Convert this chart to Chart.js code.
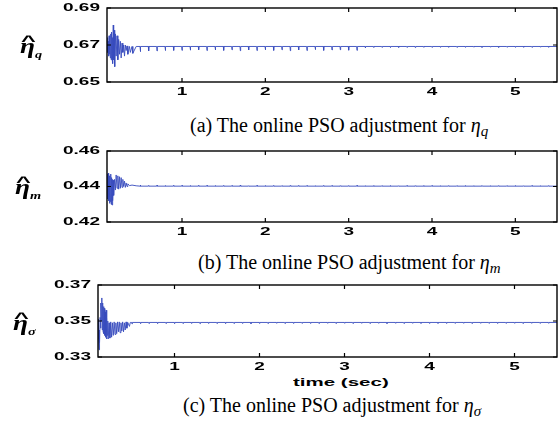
<!DOCTYPE html>
<html lang="en">
<head>
    <meta charset="UTF-8">
    <title>Online PSO adjustment</title>
    <style>
        * { box-sizing: border-box; margin: 0; padding: 0; }
        html, body { width: 560px; height: 427px; background: #fff; overflow: hidden; }
        #wrap { position: relative; width: 560px; height: 427px; }
        canvas { position: absolute; left: 0; }
        .lbl {
            position: absolute;
            font-family: 'Liberation Serif', serif;
            font-style: italic;
            font-weight: bold;
            font-size: 21px;
            transform: scaleX(1.3);
            transform-origin: left center;
            line-height: 1;
            white-space: nowrap;
        }
        .lbl .e { position: relative; display: inline-block; }
        .lbl .h {
            position: absolute;
            left: 2px;
            top: -3px;
            font-style: normal;
            font-weight: bold;
            font-family: 'Liberation Sans', sans-serif;
            font-size: 15px;
            transform: scaleX(1.3);
        }
        .lbl sub { font-size: 11px; }
        .cap {
            position: absolute;
            font-family: 'Liberation Serif', serif;
            font-size: 20px;
            white-space: nowrap;
            line-height: 1;
        }
        .cap i sub { font-size: 15px; vertical-align: -4px; }
        #xt {
            position: absolute;
            left: 293px;
            top: 377px;
            font: bold 10px 'Liberation Sans', sans-serif;
            transform: scaleX(2.05);
            transform-origin: left center;
            white-space: nowrap;
        }
    </style>
</head>
<body>
<div id="wrap">
    <canvas id="cA" width="560" height="100" style="top:0px"></canvas>
    <canvas id="cB" width="560" height="100" style="top:140px"></canvas>
    <canvas id="cC" width="560" height="100" style="top:277px"></canvas>

    <div class="lbl" style="left:20px; top:36px"><span class="e">&#951;<span class="h">^</span></span><sub>q</sub></div>
    <div class="lbl" style="left:15px; top:177px"><span class="e">&#951;<span class="h">^</span></span><sub>m</sub></div>
    <div class="lbl" style="left:13px; top:313px"><span class="e">&#951;<span class="h">^</span></span><sub>&#963;</sub></div>

    <div class="cap" style="left:190px; top:115px">(a) The online PSO adjustment for <i>&#951;<sub>q</sub></i></div>
    <div class="cap" style="left:198px; top:252px">(b) The online PSO adjustment for <i>&#951;<sub>m</sub></i></div>
    <div class="cap" style="left:183px; top:395px">(c) The online PSO adjustment for <i>&#951;<sub>&#963;</sub></i></div>
    <div id="xt">time (sec)</div>
</div>

<script src="https://cdn.jsdelivr.net/npm/chart.js@4.4.1/dist/chart.umd.min.js"></script>
<script>
    // axis ticks
    const xTicks = [1, 2, 3, 4, 5];
    const yTicksA = [0.65, 0.67, 0.69];
    const yTicksB = [0.42, 0.44, 0.46];
    const yTicksC = [0.33, 0.35, 0.37];

    // start-up transient (time, value)
    const tA = [0.100, 0.105, 0.110, 0.115, 0.120, 0.125, 0.130, 0.135, 0.140, 0.145, 0.150, 0.155, 0.160, 0.165, 0.170, 0.175, 0.180, 0.185, 0.190, 0.195, 0.200, 0.210, 0.220, 0.230, 0.240, 0.250, 0.260, 0.270, 0.280, 0.290, 0.300, 0.310, 0.320, 0.330, 0.340, 0.350, 0.370, 0.380, 0.400, 0.410, 0.450];
    const vA = [0.6700, 0.6740, 0.6660, 0.6720, 0.6640, 0.6750, 0.6650, 0.6730, 0.6630, 0.6760, 0.6620, 0.6770, 0.6640, 0.6740, 0.6600, 0.6808, 0.6620, 0.6780, 0.6600, 0.6583, 0.6760, 0.6640, 0.6750, 0.6620, 0.6730, 0.6650, 0.6720, 0.6630, 0.6710, 0.6660, 0.6700, 0.6640, 0.6700, 0.6670, 0.6695, 0.6650, 0.6692, 0.6660, 0.6692, 0.6655, 0.6692];

    const tB = [0.100, 0.105, 0.110, 0.115, 0.120, 0.125, 0.130, 0.135, 0.140, 0.145, 0.150, 0.155, 0.160, 0.165, 0.170, 0.175, 0.180, 0.190, 0.200, 0.210, 0.220, 0.230, 0.240, 0.250, 0.260, 0.270, 0.280, 0.290, 0.300, 0.310, 0.320, 0.330, 0.340, 0.350, 0.370, 0.400, 0.450];
    const vB = [0.4400, 0.4470, 0.4330, 0.4475, 0.4320, 0.4460, 0.4305, 0.4455, 0.4315, 0.4470, 0.4300, 0.4450, 0.4296, 0.4440, 0.4320, 0.4435, 0.4350, 0.4440, 0.4380, 0.4465, 0.4390, 0.4460, 0.4385, 0.4455, 0.4390, 0.4450, 0.4395, 0.4440, 0.4400, 0.4430, 0.4395, 0.4420, 0.4400, 0.4415, 0.4405, 0.4408, 0.4404];

    const tC = [0.100, 0.104, 0.108, 0.112, 0.116, 0.120, 0.125, 0.130, 0.135, 0.140, 0.145, 0.150, 0.155, 0.160, 0.165, 0.170, 0.175, 0.180, 0.185, 0.190, 0.195, 0.200, 0.205, 0.210, 0.215, 0.220, 0.230, 0.240, 0.250, 0.260, 0.270, 0.280, 0.290, 0.300, 0.310, 0.320, 0.330, 0.340, 0.350, 0.360, 0.370, 0.380, 0.390, 0.400, 0.410, 0.420, 0.430, 0.440, 0.450, 0.470, 0.480];
    const vC = [0.3510, 0.3490, 0.3400, 0.3340, 0.3450, 0.3380, 0.3520, 0.3460, 0.3600, 0.3500, 0.3628, 0.3450, 0.3600, 0.3440, 0.3580, 0.3430, 0.3570, 0.3420, 0.3550, 0.3410, 0.3560, 0.3400, 0.3520, 0.3420, 0.3500, 0.3400, 0.3490, 0.3405, 0.3495, 0.3410, 0.3490, 0.3420, 0.3495, 0.3425, 0.3490, 0.3430, 0.3495, 0.3440, 0.3495, 0.3435, 0.3490, 0.3445, 0.3495, 0.3440, 0.3490, 0.3450, 0.3495, 0.3460, 0.3492, 0.3470, 0.3492];

    // settled level and the small periodic kicks after the transient
    const baseA = 0.6692;
    const baseB = 0.4402;
    const baseC = 0.3492;
    const spikeT = [0.5, 0.6, 0.7, 0.8, 0.9, 1.0, 1.1, 1.2, 1.3, 1.4, 1.5, 1.6, 1.7, 1.8, 1.9, 2.0, 2.1, 2.2, 2.3, 2.4, 2.5, 2.6, 2.7, 2.8, 2.9, 3.0, 3.1, 3.2, 3.3, 3.4, 3.5, 3.6, 3.7, 3.8, 3.9, 4.0, 4.1, 4.2, 4.3, 4.4, 4.5, 4.6, 4.7, 4.8, 4.9, 5.0, 5.1, 5.2, 5.3, 5.4];
    const spikeA = [0.6664, 0.6668, 0.6668, 0.6670, 0.6671, 0.6671,
        0.6672, 0.6674, 0.6670, 0.6673, 0.6671, 0.6674, 0.6669, 0.6673, 0.6670, 0.6674,
        0.6671, 0.6674, 0.6669, 0.6673, 0.6670, 0.6675, 0.6671, 0.6673, 0.6674, 0.6672,
        0.6671, 0.6684, 0.6686, 0.6687, 0.6686, 0.6687, 0.6687, 0.6686, 0.6687, 0.6687,
        0.6687, 0.6688, 0.6687, 0.6687, 0.6688, 0.6687, 0.6688, 0.6687, 0.6688, 0.6687,
        0.6688, 0.6687, 0.6688, 0.6688];
    const spikeB = [0.4408, 0.4406, 0.4407, 0.4405, 0.4407, 0.4406, 0.4405, 0.4407, 0.4406, 0.4405,
        0.4406, 0.4405, 0.4407, 0.4404, 0.4406, 0.4405, 0.4406, 0.4404, 0.4405, 0.4406,
        0.4405, 0.4404, 0.4406, 0.4405, 0.4404, 0.4405, 0.4406, 0.4404, 0.4405, 0.4404,
        0.4405, 0.4404, 0.4405, 0.4404, 0.4405, 0.4405, 0.4404, 0.4405, 0.4404, 0.4405,
        0.4404, 0.4405, 0.4404, 0.4405, 0.4404, 0.4405, 0.4404, 0.4405, 0.4404, 0.4405];
    const spikeC = [0.3484, 0.3485, 0.3486, 0.3485, 0.3486, 0.3485, 0.3486, 0.3486, 0.3485, 0.3486,
        0.3486, 0.3485, 0.3486, 0.3486, 0.3485, 0.3486, 0.3486, 0.3487, 0.3486, 0.3486,
        0.3487, 0.3486, 0.3486, 0.3487, 0.3486, 0.3487, 0.3486, 0.3487, 0.3486, 0.3487,
        0.3486, 0.3487, 0.3486, 0.3487, 0.3487, 0.3486, 0.3487, 0.3486, 0.3487, 0.3487,
        0.3486, 0.3487, 0.3487, 0.3486, 0.3487, 0.3487, 0.3486, 0.3487, 0.3487, 0.3487];

    function buildSeries(ts, vs, base, spikes) {
        let pts = ts.map((t, i) => ({ x: t, y: vs[i] }));
        spikeT.forEach((t, i) => {
            pts.push({ x: t - 0.004, y: base });
            pts.push({ x: t, y: spikes[i] });
            pts.push({ x: t + 0.004, y: base });
        });
        pts.push({ x: 5.5, y: base });
        return pts;
    }

    // matlab-ish frame with inward ticks and wide bold labels
    const framePlugin = {
        id: 'frame',
        afterDraw(chart, args, opts) {
            const ctx = chart.ctx;
            const a = chart.chartArea;
            const xs = chart.scales.x, ys = chart.scales.y;
            ctx.save();
            ctx.strokeStyle = '#000';
            ctx.lineWidth = 1.4;
            ctx.strokeRect(a.left, a.top, a.right - a.left, a.bottom - a.top);
            ctx.lineWidth = 1.2;
            ctx.beginPath();
            xTicks.forEach(v => {
                const px = xs.getPixelForValue(v);
                ctx.moveTo(px, a.bottom); ctx.lineTo(px, a.bottom - 4);
                ctx.moveTo(px, a.top); ctx.lineTo(px, a.top + 4);
            });
            opts.yTicks.forEach(v => {
                const py = ys.getPixelForValue(v);
                ctx.moveTo(a.left, py); ctx.lineTo(a.left + 4, py);
                ctx.moveTo(a.right, py); ctx.lineTo(a.right - 4, py);
            });
            ctx.stroke();

            ctx.fillStyle = '#000';
            ctx.font = 'bold 10px "Liberation Sans", sans-serif';
            ctx.textBaseline = 'middle';
            xTicks.forEach(v => {
                const px = xs.getPixelForValue(v);
                ctx.save();
                ctx.translate(px, a.bottom + 10.5);
                ctx.scale(1.9, 1);
                ctx.textAlign = 'center';
                ctx.fillText(String(v), 0, 0);
                ctx.restore();
            });
            opts.yTicks.forEach(v => {
                const py = ys.getPixelForValue(v);
                ctx.save();
                ctx.translate(a.left - 7, py);
                ctx.scale(1.9, 1);
                ctx.textAlign = 'right';
                ctx.fillText(v.toFixed(2), 0, 0);
                ctx.restore();
            });
            ctx.restore();
        }
    };

    function makeChart(id, pts, yTicks, pad) {
        return new Chart(document.getElementById(id), {
            type: 'line',
            data: {
                datasets: [{
                    data: pts,
                    borderColor: 'rgba(55, 75, 190, 0.9)',
                    borderWidth: 1,
                    pointRadius: 0,
                    tension: 0
                }]
            },
            options: {
                responsive: false,
                animation: false,
                events: [],
                layout: { padding: pad },
                plugins: {
                    legend: { display: false },
                    tooltip: { enabled: false },
                    frame: { yTicks: yTicks }
                },
                scales: {
                    x: { type: 'linear', min: 0.1, max: 5.5, display: false },
                    y: { min: yTicks[0], max: yTicks[yTicks.length - 1], display: false }
                }
            },
            plugins: [framePlugin]
        });
    }

    makeChart('cA', buildSeries(tA, vA, baseA, spikeA), yTicksA, { left: 107, right: 3, top: 8, bottom: 18 });
    makeChart('cB', buildSeries(tB, vB, baseB, spikeB), yTicksB, { left: 107, right: 3, top: 11, bottom: 18 });
    makeChart('cC', buildSeries(tC, vC, baseC, spikeC), yTicksC, { left: 98, right: 3, top: 8, bottom: 20 });
</script>
</body>
</html>
